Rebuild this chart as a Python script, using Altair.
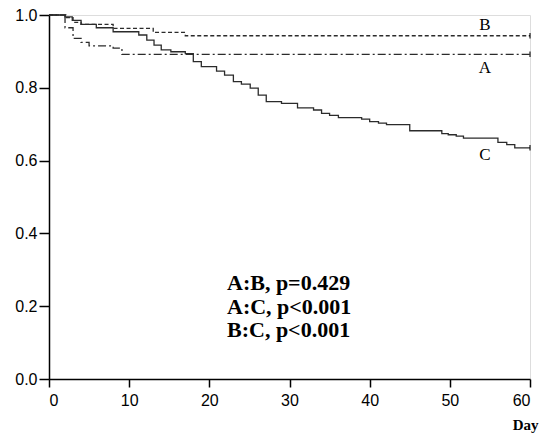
import altair as alt
import pandas as pd

# Kaplan-Meier step data
days_A = [0, 2.0, 3.0, 4.0, 5.0, 8.0, 9.1, 60]
surv_A = [1.0, 0.965, 0.936, 0.925, 0.915, 0.909, 0.892, 0.892]

days_B = [0, 2.1, 3.0, 4.0, 8.0, 13.0, 17.0, 60]
surv_B = [1.0, 0.993, 0.980, 0.974, 0.963, 0.952, 0.943, 0.943]

days_C = [0, 2.0, 2.9, 4.0, 5.9, 8.0, 11.2, 12.2, 13.1, 14.0, 15.2, 17.0, 18.0,
          19.0, 20.9, 21.9, 23.0, 24.0, 25.1, 26.1, 27.1, 29.0, 31.0, 33.0,
          34.0, 35.0, 36.1, 39.0, 40.0, 41.1, 42.1, 45.0, 49.0, 49.8, 50.8,
          51.7, 56.0, 57.1, 58.1, 60]
surv_C = [1.0, 0.995, 0.985, 0.974, 0.965, 0.954, 0.945, 0.931, 0.917, 0.904,
          0.899, 0.894, 0.872, 0.858, 0.846, 0.835, 0.817, 0.810, 0.799, 0.780,
          0.762, 0.757, 0.745, 0.739, 0.730, 0.724, 0.718, 0.714, 0.707, 0.703,
          0.699, 0.682, 0.674, 0.671, 0.667, 0.662, 0.650, 0.644, 0.635, 0.635]

group_labels = ["A", "B", "C"]
stats_lines = ["A:B, p=0.429", "A:C, p<0.001", "B:C, p<0.001"]
x_ticks = [0, 10, 20, 30, 40, 50, 60]
y_ticks = [0.0, 0.2, 0.4, 0.6, 0.8, 1.0]

W, H = 481, 364
TOP = 7
LINE = "#2b2b2b"

xs = alt.Scale(domain=[0, 60], nice=False, zero=False)
ys = alt.Scale(domain=[0, 1], nice=False)

x_axis = alt.Axis(values=x_ticks, format="d", title="Day", grid=False,
                  labelFont="Liberation Sans", labelFontSize=16, labelColor="black",
                  tickSize=8, labelPadding=5, tickColor="black", domainColor="black",
                  domainWidth=1.5, tickWidth=1.5,
                  titleFont="Liberation Serif", titleFontWeight="bold", titleFontSize=15,
                  titleColor="black", titleX=W + 8, titleY=50, titleAlign="right",
                  titleBaseline="alphabetic")
y_axis = alt.Axis(values=y_ticks, format=".1f", title=None, grid=False,
                  labelFont="Liberation Sans", labelFontSize=16, labelColor="black",
                  tickSize=10, labelPadding=2, tickColor="black", domainColor="black",
                  domainWidth=1.5, tickWidth=1.5)


def curve(days, surv, dash):
    df = pd.DataFrame({"day": days, "surv": surv})
    kw = dict(interpolate="step-after", color=LINE, strokeWidth=1.3)
    if dash:
        kw["strokeDash"] = dash
    return alt.Chart(df).mark_line(**kw).encode(
        x=alt.X("day:Q", scale=xs, axis=x_axis),
        y=alt.Y("surv:Q", scale=ys, axis=y_axis),
    )


lineA = curve(days_A, surv_A, [8, 3, 2, 3])
lineB = curve(days_B, surv_B, [4, 2.5])
lineC = curve(days_C, surv_C, None)

ends = pd.DataFrame({"day": [days_A[-1], days_B[-1], days_C[-1]],
                     "surv": [surv_A[-1], surv_B[-1], surv_C[-1]]})
censor = alt.Chart(ends).mark_point(shape="M0,-1L0,1", size=30, color="black",
                                    strokeWidth=1.5, filled=False).encode(
    x=alt.X("day:Q", scale=xs), y=alt.Y("surv:Q", scale=ys))

lab_pos_y = [53, 10, 140]
group_text = alt.layer(*[
    alt.Chart(pd.DataFrame({"t": [g]})).mark_text(
        font="Liberation Serif", fontSize=17, color="black",
        align="center", baseline="middle").encode(
        text="t:N", x=alt.value(436), y=alt.value(py))
    for g, py in zip(group_labels, lab_pos_y)
])

stat_pos_y = [275, 298.5, 322]
stat_text = alt.layer(*[
    alt.Chart(pd.DataFrame({"t": [s]})).mark_text(
        font="Liberation Serif", fontSize=22, fontWeight="bold", color="black",
        align="left", baseline="alphabetic").encode(
        text="t:N", x=alt.value(178), y=alt.value(py))
    for s, py in zip(stats_lines, stat_pos_y)
])

chart = alt.layer(lineA, lineB, lineC, censor, group_text, stat_text).properties(
    width=W, height=H,
    autosize=alt.AutoSizeParams(type="none"),
    padding={"left": 41, "top": TOP, "right": 11, "bottom": 56},
).configure_view(stroke="black", strokeWidth=1.5).configure(background="white")

chart.save("out.html", embed_options={"renderer": "svg", "actions": False})
